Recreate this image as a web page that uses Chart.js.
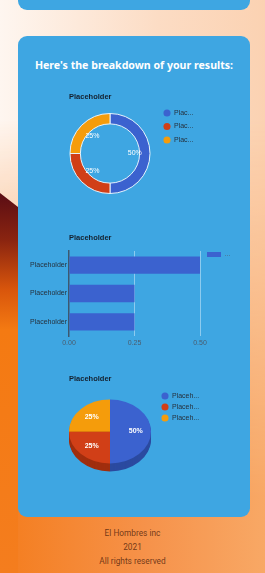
<!DOCTYPE html>
<html>
<head>
<meta charset="utf-8">
<title>Results</title>
<script src="https://cdn.jsdelivr.net/npm/chart.js@4.4.1/dist/chart.umd.min.js"></script>
<style>
  html, body { margin: 0; padding: 0; }
  body {
    position: relative;
    width: 265px;
    height: 573px;
    overflow: hidden;
    background: linear-gradient(to right, #f47d1e 0%, #f6924a 55%, #f8a865 100%);
    font-family: Roboto, "Liberation Sans", sans-serif;
  }
  .bg-top {
    position: absolute; left: 0; top: 0; width: 265px; height: 573px;
    background: linear-gradient(to right, #fef6f0 0%, #fcdcc4 60%, #fbd2b2 100%);
    -webkit-mask-image: linear-gradient(to bottom, #000 0px, #000 120px, rgba(0,0,0,0) 500px);
    mask-image: linear-gradient(to bottom, #000 0px, #000 120px, rgba(0,0,0,0) 500px);
  }
  .bg-wedge {
    position: absolute; left: 0; top: 0; width: 18px; height: 573px;
    clip-path: polygon(0 193px, 18px 207px, 18px 573px, 0 573px);
    background: linear-gradient(to bottom, #5a0d14 193px, #8a2410 240px, #d9560c 290px, #f47a12 330px, #f47d1e 573px);
  }
  .card {
    position: absolute; left: 18px; width: 232px;
    background: #3ea6e2; border-radius: 9px;
  }
  .heading {
    position: absolute; left: 18px; top: 59px; width: 232px;
    text-align: center; color: #fff;
    font: 700 10.6px/13px "Noto Sans", sans-serif;
  }
  canvas { position: absolute; }
  .foot {
    position: absolute; left: 0; width: 265px; text-align: center;
    font: 400 8.3px/10px Roboto, sans-serif; color: rgba(78, 34, 12, 0.8);
  }
</style>
</head>
<body>
<div class="bg-top"></div>
<div class="bg-wedge"></div>
<div class="card" style="top:-30px;height:40px"></div>
<div class="card" style="top:36px;height:481px"></div>
<div class="heading">Here's the breakdown of your results:</div>

<canvas id="donut" width="175" height="110" style="left:69px;top:88px"></canvas>
<canvas id="bars" width="225" height="125" style="left:20px;top:228px"></canvas>
<canvas id="pie3d" width="175" height="108" style="left:69px;top:370px"></canvas>

<div class="foot" style="top:528px">El Hombres inc</div>
<div class="foot" style="top:542px">2021</div>
<div class="foot" style="top:556px">All rights reserved</div>

<script>
// chart data
const categories = ['Placeholder', 'Placeholder', 'Placeholder'];
const values = [0.5, 0.25, 0.25];
const seriesName = 'Placeholder';
const xTicks = [0, 0.25, 0.5];
const chartTitle = 'Placeholder';

// look
const sliceColors = ['#3b62cf', '#d13f17', '#f59c0b'];
const sideColors = ['#2b4aa0', '#a02e0e', '#b87207'];
const titleColor = '#14202e';
const squash = 0.78;

Chart.defaults.font.family = '"Liberation Sans", Arial, sans-serif';
Chart.defaults.animation = false;
Chart.defaults.responsive = false;

const titleOpts = (top, bottom) => ({
    display: true,
    text: chartTitle,
    align: 'start',
    fullSize: false,
    color: titleColor,
    font: { size: 7.5, weight: 'bold' },
    padding: { top: top, bottom: bottom }
});

// legend text gets cut like the original ("Plac...")
function clipped(base, keep) {
    return chart => base(chart).map(item => Object.assign(item, {
        text: item.text.slice(0, keep) + '...',
        lineWidth: 0
    }));
}

// put the legend just right of the plot area
const legendBeside = {
    id: 'legendBeside',
    afterLayout(chart, args, o) {
        const lg = chart.legend, area = chart.chartArea;
        const w = lg.width, h = lg.height;
        lg.left = area.right + o.gap;
        lg.right = lg.left + w;
        lg.top = area.top + o.shift;
        lg.bottom = lg.top + h;
    }
};

// percentage labels inside the slices
const sliceLabels = {
    id: 'sliceLabels',
    afterDatasetsDraw(chart, args, o) {
        const ctx = chart.ctx;
        const data = chart.data.datasets[0].data;
        const total = data.reduce((a, b) => a + b, 0);
        ctx.save();
        ctx.fillStyle = '#fff';
        ctx.font = o.font;
        ctx.textAlign = 'center';
        ctx.textBaseline = 'middle';
        chart.getDatasetMeta(0).data.forEach((arc, i) => {
            const mid = (arc.startAngle + arc.endAngle) / 2;
            const r = arc.outerRadius * o.at;
            ctx.fillText(Math.round(data[i] / total * 100) + '%',
                arc.x + Math.cos(mid) * r,
                arc.y + Math.sin(mid) * r * (o.squash || 1));
        });
        ctx.restore();
    }
};

// fake 3d: flatten the pie and stack darker copies under it
const tilt = {
    id: 'tilt',
    beforeDatasetsDraw(chart, args, o) {
        const ctx = chart.ctx;
        const arcs = chart.getDatasetMeta(0).data;
        const cx = arcs[0].x, cy = arcs[0].y;
        for (let d = o.depth; d > 0; d--) {
            ctx.save();
            ctx.translate(cx, cy + d);
            ctx.scale(1, o.squash);
            ctx.translate(-cx, -cy);
            arcs.forEach((arc, i) => {
                ctx.beginPath();
                ctx.moveTo(arc.x, arc.y);
                ctx.arc(arc.x, arc.y, arc.outerRadius, arc.startAngle, arc.endAngle);
                ctx.closePath();
                ctx.fillStyle = o.sides[i];
                ctx.fill();
            });
            ctx.restore();
        }
        ctx.save();
        ctx.translate(cx, cy);
        ctx.scale(1, o.squash);
        ctx.translate(-cx, -cy);
    },
    afterDatasetsDraw(chart) {
        chart.ctx.restore();
    }
};

const pieLegendBase = Chart.overrides.doughnut.plugins.legend.labels.generateLabels;

new Chart(document.getElementById('donut'), {
    type: 'doughnut',
    data: {
        labels: categories,
        datasets: [{
            data: values,
            backgroundColor: sliceColors,
            borderColor: '#e6f3fb',
            borderWidth: 1
        }]
    },
    options: {
        cutout: '74%',
        layout: { padding: { left: 0, right: 93, top: 0, bottom: 4 } },
        plugins: {
            title: titleOpts(4, 12),
            tooltip: { enabled: false },
            legend: {
                position: 'chartArea',
                align: 'start',
                labels: {
                    usePointStyle: true,
                    pointStyle: 'circle',
                    boxHeight: 5,
                    padding: 6.5,
                    color: '#26313d',
                    font: { size: 7 },
                    generateLabels: clipped(pieLegendBase, 4)
                }
            },
            legendBeside: { gap: 6, shift: -10 },
            sliceLabels: { at: 0.62, font: '7px "Liberation Sans", Arial, sans-serif' }
        }
    },
    plugins: [legendBeside, sliceLabels]
});

new Chart(document.getElementById('bars'), {
    type: 'bar',
    data: {
        labels: categories,
        datasets: [{
            label: seriesName,
            data: values,
            backgroundColor: sliceColors[0],
            barPercentage: 0.9,
            categoryPercentage: 0.68
        }]
    },
    options: {
        indexAxis: 'y',
        layout: { padding: { left: 0, right: 45, top: 0, bottom: 2.6 } },
        scales: {
            x: {
                min: xTicks[0],
                max: xTicks[xTicks.length - 1],
                afterBuildTicks: axis => { axis.ticks = xTicks.map(v => ({ value: v })); },
                ticks: {
                    callback: v => v.toFixed(2),
                    color: '#4a5c6e',
                    font: { size: 7 },
                    padding: 3,
                    maxRotation: 0
                },
                grid: {
                    color: c => c.index === 0 ? 'rgba(0,0,0,0)' : '#8dcbef',
                    lineWidth: 1,
                    drawTicks: false
                },
                border: { display: false }
            },
            y: {
                afterFit: axis => { axis.width = 49; },
                ticks: { color: '#26313d', font: { size: 7 }, padding: 2 },
                grid: { display: false, drawTicks: false },
                border: { display: true, color: '#3d5870', width: 1.5 }
            }
        },
        plugins: {
            title: titleOpts(5.5, 8.5),
            tooltip: { enabled: false },
            legend: {
                position: 'chartArea',
                align: 'start',
                labels: {
                    boxWidth: 14,
                    boxHeight: 5,
                    padding: 5,
                    color: '#55626f',
                    font: { size: 7 },
                    generateLabels: clipped(Chart.defaults.plugins.legend.labels.generateLabels, 0)
                }
            },
            legendBeside: { gap: 2, shift: -5 }
        }
    },
    plugins: [legendBeside]
});

new Chart(document.getElementById('pie3d'), {
    type: 'pie',
    data: {
        labels: categories,
        datasets: [{
            data: values,
            backgroundColor: sliceColors,
            borderWidth: 0,
            clip: false
        }]
    },
    options: {
        layout: { padding: { left: 0, right: 93, top: 0, bottom: 5.5 } },
        plugins: {
            title: titleOpts(4.5, 7),
            tooltip: { enabled: false },
            legend: {
                position: 'chartArea',
                align: 'start',
                labels: {
                    usePointStyle: true,
                    pointStyle: 'circle',
                    boxHeight: 5,
                    padding: 4,
                    color: '#26313d',
                    font: { size: 7 },
                    generateLabels: clipped(pieLegendBase, 6)
                }
            },
            legendBeside: { gap: 6.5, shift: -2 },
            tilt: { depth: 8, squash: squash, sides: sideColors },
            sliceLabels: { at: 0.63, squash: squash, font: 'bold 7px "Liberation Sans", Arial, sans-serif' }
        }
    },
    plugins: [legendBeside, tilt, sliceLabels]
});
</script>
</body>
</html>
